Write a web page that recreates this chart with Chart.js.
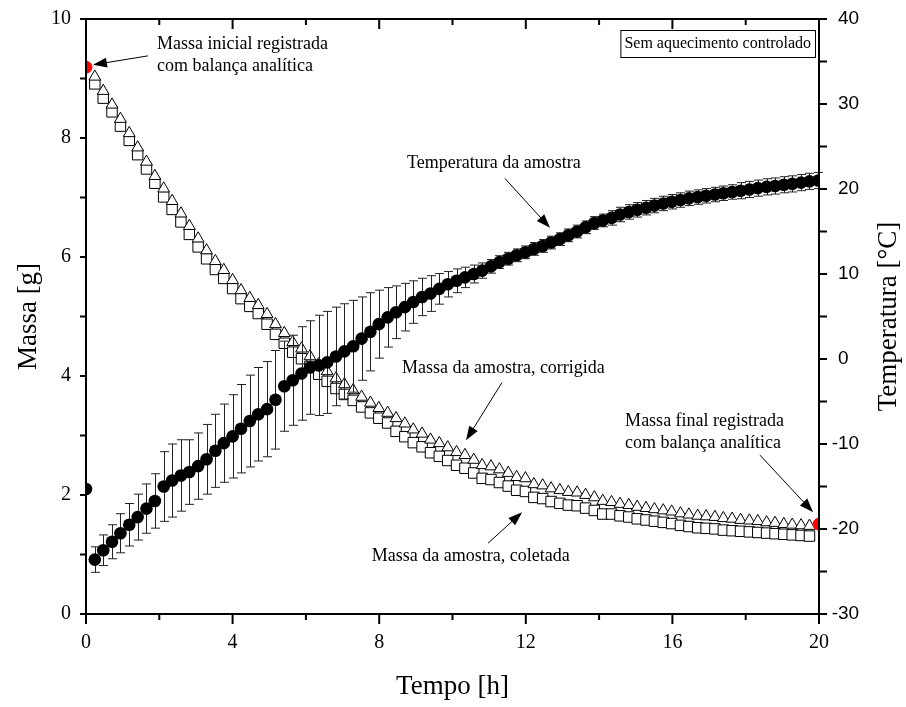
<!DOCTYPE html>
<html>
<head>
<meta charset="utf-8">
<script src="https://cdn.jsdelivr.net/npm/chart.js@4/dist/chart.umd.min.js"></script>
<style>
  html, body { margin: 0; padding: 0; background: #fff; }
</style>
</head>
<body>
<canvas id="grafico" width="906" height="707"></canvas>
<script>
// tempo [h] de cada leitura
const tempo = [0.24,0.47,0.71,0.94,1.18,1.41,1.65,1.88,2.12,2.35,2.59,2.82,3.06,3.29,3.53,3.76,4.00,4.23,4.47,4.70,
  4.94,5.17,5.41,5.64,5.88,6.11,6.35,6.58,6.82,7.05,7.29,7.52,7.76,7.99,8.23,8.46,8.70,8.93,9.17,9.40,
  9.64,9.87,10.11,10.34,10.58,10.81,11.05,11.28,11.52,11.75,11.99,12.22,12.46,12.69,12.93,13.16,13.40,13.63,13.87,14.10,
  14.34,14.57,14.81,15.04,15.28,15.51,15.75,15.98,16.22,16.45,16.69,16.92,17.16,17.39,17.63,17.86,18.10,18.33,18.57,18.80,
  19.04,19.27,19.51,19.74,19.98];

// temperatura da amostra [°C] e desvio
const temperatura = [-23.6,-22.5,-21.5,-20.5,-19.5,-18.6,-17.6,-16.7,-15.0,-14.3,-13.7,-13.3,-12.6,-11.8,-10.8,-9.9,-9.1,-8.2,-7.3,-6.5,
  -5.9,-4.8,-3.2,-2.5,-1.7,-1.0,-0.75,-0.4,0.3,0.9,1.5,2.4,3.2,4.1,4.9,5.5,6.1,6.7,7.3,7.7,
  8.25,8.8,9.2,9.6,10.0,10.4,10.9,11.4,11.8,12.2,12.55,12.95,13.3,13.7,14.1,14.55,15.0,15.5,16.0,16.3,
  16.6,17.0,17.3,17.55,17.8,18.05,18.3,18.5,18.7,18.9,19.05,19.2,19.35,19.5,19.65,19.8,19.95,20.1,20.25,20.35,
  20.5,20.6,20.75,20.9,21.0];
const erroTemperatura = [1.5,1.8,2.0,2.3,2.5,2.7,2.9,3.2,4.1,4.3,4.2,3.8,3.9,4.1,4.3,4.6,4.9,5.2,5.4,5.5,
  5.6,5.8,5.3,5.3,5.5,5.5,5.9,6.0,5.8,5.6,5.4,4.9,4.6,4.0,3.5,3.1,2.8,2.5,2.2,2.1,
  1.8,1.5,1.4,1.2,1.05,0.9,0.8,0.75,0.75,0.75,0.75,0.75,0.75,0.75,0.75,0.75,0.75,0.75,0.75,0.75,
  0.85,0.85,0.85,0.85,0.85,0.85,0.85,0.85,0.85,0.85,0.85,0.85,0.85,0.85,0.85,0.95,0.95,0.95,0.95,0.95,
  0.95,0.95,0.95,0.95,0.95];
const tempoInicial = [0];
const temperaturaInicial = [-15.3];

// massa da amostra [g]
const massaCorrigida = [9.03,8.79,8.56,8.32,8.08,7.84,7.60,7.36,7.15,6.94,6.73,6.52,6.31,6.11,5.93,5.78,5.61,5.44,5.31,5.19,
  5.04,4.87,4.72,4.57,4.46,4.33,4.20,4.08,3.96,3.86,3.76,3.65,3.55,3.46,3.38,3.29,3.20,3.10,3.03,2.93,
  2.87,2.80,2.72,2.67,2.59,2.50,2.48,2.43,2.37,2.30,2.28,2.18,2.16,2.11,2.08,2.05,2.04,2.00,1.96,1.90,
  1.88,1.85,1.83,1.80,1.78,1.76,1.74,1.72,1.69,1.67,1.65,1.64,1.63,1.61,1.60,1.58,1.57,1.56,1.54,1.53,
  1.51,1.50,1.49,1.48];
const massaColetada = [8.91,8.67,8.44,8.20,7.96,7.72,7.48,7.24,7.01,6.80,6.59,6.38,6.17,5.97,5.79,5.64,5.47,5.30,5.17,5.05,
  4.87,4.70,4.55,4.40,4.29,4.16,4.03,3.91,3.79,3.69,3.59,3.48,3.38,3.29,3.21,3.07,2.98,2.88,2.81,2.71,
  2.65,2.58,2.50,2.45,2.37,2.28,2.26,2.21,2.15,2.08,2.06,1.96,1.94,1.89,1.86,1.83,1.82,1.78,1.74,1.68,
  1.68,1.65,1.63,1.60,1.58,1.56,1.54,1.52,1.49,1.47,1.45,1.44,1.43,1.41,1.40,1.39,1.38,1.37,1.36,1.35,
  1.34,1.33,1.32,1.31];

// massa pesada na balança analítica
const tempoBalanca = [0, 20];
const massaBalanca = [9.19, 1.51];

// rótulos e marcas dos eixos
const ticksTempo = [0, 4, 8, 12, 16, 20];
const ticksMassa = [0, 2, 4, 6, 8, 10];
const ticksTemp = [-30, -20, -10, 0, 10, 20, 30, 40];
const marcasTempo = [0, 2, 4, 6, 8, 10, 12, 14, 16, 18, 20];
const marcasMassa = [0, 1, 2, 3, 4, 5, 6, 7, 8, 9, 10];
const marcasTemp = [-30, -25, -20, -15, -10, -5, 0, 5, 10, 15, 20, 25, 30, 35, 40];

const serif = "'Liberation Serif', 'Times New Roman', serif";
const sans = "'Liberation Sans', Arial, sans-serif";

// textos com seta, posicionados em (tempo, massa)
const notas = [
  { linhas: ["Massa inicial registrada", "com balança analítica"], t: 1.94, m: 9.58, de: [1.69, 9.38], para: [0.19, 9.23] },
  { linhas: ["Temperatura da amostra"], t: 8.76, m: 7.57, de: [11.43, 7.32], para: [12.66, 6.49] },
  { linhas: ["Massa da amostra, corrigida"], t: 8.62, m: 4.13, de: [11.35, 3.89], para: [10.37, 2.92] },
  { linhas: ["Massa final registrada", "com balança analítica"], t: 14.71, m: 3.24, de: [18.39, 2.67], para: [19.84, 1.71] },
  { linhas: ["Massa da amostra, coletada"], t: 7.80, m: 0.97, de: [10.97, 1.19], para: [11.90, 1.71] }
];

function seta(ctx, x1, y1, x2, y2) {
  const a = Math.atan2(y2 - y1, x2 - x1);
  const L = 14, W = 5;
  ctx.beginPath();
  ctx.moveTo(x1, y1);
  ctx.lineTo(x2 - L * 0.7 * Math.cos(a), y2 - L * 0.7 * Math.sin(a));
  ctx.stroke();
  ctx.beginPath();
  ctx.moveTo(x2, y2);
  ctx.lineTo(x2 - L * Math.cos(a) + W * Math.sin(a), y2 - L * Math.sin(a) - W * Math.cos(a));
  ctx.lineTo(x2 - L * Math.cos(a) - W * Math.sin(a), y2 - L * Math.sin(a) + W * Math.cos(a));
  ctx.closePath();
  ctx.fill();
}

const moldura = {
  id: "moldura",
  beforeDatasetDraw(chart, args) {
    if (args.index !== 1) return;
    const ctx = chart.ctx, x = chart.scales.x, y2 = chart.scales.y2;
    ctx.save();
    ctx.strokeStyle = "#222";
    ctx.lineWidth = 1;
    tempo.forEach((t, i) => {
      const px = Math.round(x.getPixelForValue(t)) + 0.5;
      const sup = y2.getPixelForValue(temperatura[i] + erroTemperatura[i]);
      const inf = y2.getPixelForValue(temperatura[i] - erroTemperatura[i]);
      ctx.beginPath();
      ctx.moveTo(px, sup); ctx.lineTo(px, inf);
      ctx.moveTo(px - 4.5, sup); ctx.lineTo(px + 4.5, sup);
      ctx.moveTo(px - 4.5, inf); ctx.lineTo(px + 4.5, inf);
      ctx.stroke();
    });
    ctx.restore();
  },
  afterDraw(chart) {
    const ctx = chart.ctx;
    const { left, right, top, bottom } = chart.chartArea;
    const x = chart.scales.x, y = chart.scales.y, y2 = chart.scales.y2;
    ctx.save();
    ctx.strokeStyle = "#000";
    ctx.fillStyle = "#000";
    ctx.lineWidth = 2;
    ctx.strokeRect(left, top, right - left, bottom - top);

    ctx.beginPath();
    marcasTempo.forEach(v => {
      const px = x.getPixelForValue(v);
      const len = v % 4 === 0 ? 10 : 6;
      ctx.moveTo(px, bottom); ctx.lineTo(px, bottom + len);
      ctx.moveTo(px, top); ctx.lineTo(px, top + len);
    });
    marcasMassa.forEach(v => {
      const py = y.getPixelForValue(v);
      ctx.moveTo(left - 6, py); ctx.lineTo(left, py);
    });
    marcasTemp.forEach(v => {
      const py = y2.getPixelForValue(v);
      ctx.moveTo(right, py); ctx.lineTo(right + 8, py);
    });
    ctx.stroke();

    // rótulos do eixo de temperatura (sinal de menos pendurado)
    ctx.font = "19px " + sans;
    ctx.textAlign = "left";
    ctx.textBaseline = "middle";
    const menos = ctx.measureText("-").width;
    ticksTemp.forEach(v => {
      const py = y2.getPixelForValue(v);
      ctx.fillText(String(v), right + 19 - (v < 0 ? menos : 0), py);
    });

    // título do eixo direito, lido de baixo para cima
    ctx.save();
    ctx.font = "27px " + serif;
    ctx.textAlign = "center";
    ctx.translate(889, (top + bottom) / 2);
    ctx.rotate(-Math.PI / 2);
    ctx.fillText("Temperatura [°C]", 0, 0);
    ctx.restore();

    // anotações
    ctx.lineWidth = 1;
    ctx.font = "18px " + serif;
    ctx.textAlign = "left";
    ctx.textBaseline = "middle";
    notas.forEach(n => {
      const tx = x.getPixelForValue(n.t), ty = y.getPixelForValue(n.m);
      n.linhas.forEach((l, k) => ctx.fillText(l, tx, ty + k * 22.5));
      seta(ctx, x.getPixelForValue(n.de[0]), y.getPixelForValue(n.de[1]),
        x.getPixelForValue(n.para[0]), y.getPixelForValue(n.para[1]));
    });

    // caixa de condição
    ctx.font = "16px " + serif;
    const rotulo = "Sem aquecimento controlado";
    const w = ctx.measureText(rotulo).width + 8;
    const bx = right - 4 - w, by = top + 11;
    ctx.strokeRect(bx + 0.5, by + 0.5, w, 27);
    ctx.fillText(rotulo, bx + 4, by + 14);
    ctx.restore();
  }
};

new Chart(document.getElementById("grafico"), {
  type: "scatter",
  data: {
    datasets: [
      {
        label: "Balança analítica",
        data: tempoBalanca.map((t, i) => ({ x: t, y: massaBalanca[i] })),
        yAxisID: "y",
        pointRadius: 6,
        pointBackgroundColor: "#ff0000",
        pointBorderColor: "#ff0000",
        clip: 0
      },
      {
        label: "Temperatura da amostra",
        data: tempo.map((t, i) => ({ x: t, y: temperatura[i] })),
        yAxisID: "y2",
        pointRadius: 6.3,
        pointBackgroundColor: "#000",
        pointBorderColor: "#000",
        pointBorderWidth: 0,
        clip: 0
      },
      {
        label: "Temperatura inicial",
        data: tempoInicial.map((t, i) => ({ x: t, y: temperaturaInicial[i] })),
        yAxisID: "y2",
        pointRadius: 6.3,
        pointBackgroundColor: "#000",
        pointBorderColor: "#000",
        pointBorderWidth: 0,
        clip: 0
      },
      {
        label: "Massa da amostra, corrigida",
        data: massaCorrigida.map((m, i) => ({ x: tempo[i], y: m })),
        yAxisID: "y",
        pointStyle: "triangle",
        pointRadius: 6.8,
        pointBackgroundColor: "#fff",
        pointBorderColor: "#000",
        pointBorderWidth: 1
      },
      {
        label: "Massa da amostra, coletada",
        data: massaColetada.map((m, i) => ({ x: tempo[i], y: m })),
        yAxisID: "y",
        pointStyle: "rect",
        pointRadius: 7.4,
        pointBackgroundColor: "#fff",
        pointBorderColor: "#000",
        pointBorderWidth: 1
      }
    ]
  },
  options: {
    responsive: false,
    devicePixelRatio: 1,
    animation: false,
    layout: { padding: { top: 18, left: 0, right: 0, bottom: 0 } },
    plugins: { legend: { display: false }, tooltip: { enabled: false } },
    scales: {
      x: {
        type: "linear",
        position: "bottom",
        min: 0,
        max: 20,
        grid: { display: false },
        border: { display: false },
        afterBuildTicks: s => { s.ticks = ticksTempo.map(v => ({ value: v })); },
        afterFit: s => { s.height = 93; },
        ticks: { color: "#000", font: { family: serif, size: 20 }, padding: 9, maxRotation: 0 },
        title: { display: true, text: "Tempo [h]", color: "#000", font: { family: serif, size: 27 }, padding: { top: 0, bottom: 4 } }
      },
      y: {
        type: "linear",
        position: "left",
        min: 0,
        max: 10,
        grid: { display: false },
        border: { display: false },
        afterBuildTicks: s => { s.ticks = ticksMassa.map(v => ({ value: v })); },
        afterFit: s => { s.width = 86; },
        ticks: { color: "#000", font: { family: serif, size: 20 }, padding: 7 },
        title: { display: true, text: "Massa [g]", color: "#000", font: { family: serif, size: 27 }, padding: { top: 13, bottom: 0 } }
      },
      y2: {
        type: "linear",
        position: "right",
        min: -30,
        max: 40,
        grid: { display: false },
        border: { display: false },
        afterFit: s => { s.width = 87; },
        ticks: { display: false }
      }
    }
  },
  plugins: [moldura]
});
</script>
</body>
</html>
